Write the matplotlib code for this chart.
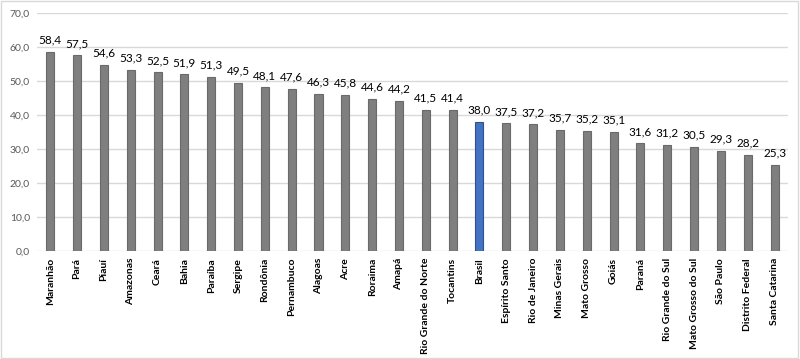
import numpy as np
import matplotlib.pyplot as plt
from matplotlib.patches import Rectangle

states = ["Maranhão", "Pará", "Piauí", "Amazonas", "Ceará", "Bahia", "Paraíba",
          "Sergipe", "Rondônia", "Pernambuco", "Alagoas", "Acre", "Roraima",
          "Amapá", "Rio Grande do Norte", "Tocantins", "Brasil", "Espírito Santo",
          "Rio de Janeiro", "Minas Gerais", "Mato Grosso", "Goiás", "Paraná",
          "Rio Grande do Sul", "Mato Grosso do Sul", "São Paulo",
          "Distrito Federal", "Santa Catarina"]
values = [58.4, 57.5, 54.6, 53.3, 52.5, 51.9, 51.3, 49.5, 48.1, 47.6, 46.3,
          45.8, 44.6, 44.2, 41.5, 41.4, 38.0, 37.5, 37.2, 35.7, 35.2, 35.1,
          31.6, 31.2, 30.5, 29.3, 28.2, 25.3]
yticks = np.arange(0, 71, 10)

plt.rcParams['font.family'] = ['Lato', 'DejaVu Sans']

fig = plt.figure(figsize=(8, 3.59), dpi=100)
ax = fig.add_axes([0.046, 0.301, 0.939, 0.663])

x = np.arange(len(states))
colors = ['#4472c4' if s == "Brasil" else '#7f7f7f' for s in states]
edges = ['#2f528f' if s == "Brasil" else '#6a6a6a' for s in states]
ax.bar(x, values, width=0.3, color=colors, edgecolor=edges, linewidth=0.8, zorder=3)

for xi, v in zip(x, values):
    ax.text(xi, v + 1.9, f"{v:.1f}".replace(".", ","), ha='center', va='bottom',
            fontsize=8.5, color='black')

ax.set_xlim(-0.5, len(states) - 0.5)
ax.set_ylim(0, 70)
ax.set_yticks(yticks)
ax.set_yticklabels([f"{t:.1f}".replace(".", ",") for t in yticks], fontsize=7.5, color='#595959')
ax.set_xticks(x)
ax.set_xticklabels(states, rotation=90, fontsize=7.5, fontweight='bold', color='black')
ax.tick_params(length=0, pad=5)
ax.grid(axis='y', color='#d9d9d9', linewidth=1, zorder=0)
for s in ax.spines.values():
    s.set_visible(False)

fig.patches.append(Rectangle((0.001, 0.002), 0.997, 0.995, transform=fig.transFigure,
                             fill=False, edgecolor='#d9d9d9', linewidth=1))

fig.savefig("out.png", dpi=100)
